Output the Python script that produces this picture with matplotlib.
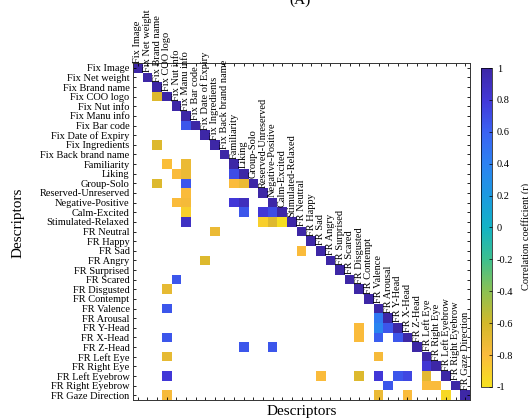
import numpy as np
import matplotlib
matplotlib.use('Agg')
import matplotlib.pyplot as plt
from matplotlib.colors import LinearSegmentedColormap

plt.rcParams['font.family'] = 'serif'
plt.rcParams['font.serif'] = ['Liberation Serif', 'DejaVu Serif']
plt.rcParams['axes.unicode_minus'] = False

descriptors = ['Fix Image', 'Fix Net weight', 'Fix Brand name', 'Fix COO logo',
               'Fix Nut info', 'Fix Manu info', 'Fix Bar code', 'Fix Date of Expiry',
               'Fix Ingredients', 'Fix Back brand name', 'Familiarity', 'Liking',
               'Group-Solo', 'Reserved-Unreserved', 'Negative-Positive', 'Calm-Excited',
               'Stimulated-Relaxed', 'FR Neutral', 'FR Happy', 'FR Sad', 'FR Angry',
               'FR Surprised', 'FR Scared', 'FR Disgusted', 'FR Contempt', 'FR Valence',
               'FR Arousal', 'FR Y-Head', 'FR X-Head', 'FR Z-Head', 'FR Left Eye',
               'FR Right Eye', 'FR Left Eyebrow', 'FR Right Eyebrow', 'FR Gaze Direction']

# significant correlations below the diagonal (row, column, r)
rows = [3, 6, 8, 10, 10, 11, 11, 11, 12, 12, 12, 12, 13, 14, 14, 14, 14,
        15, 15, 15, 15, 16, 16, 16, 16, 17, 19, 20, 22, 23, 25, 26, 27, 27,
        27, 28, 28, 28, 28, 29, 29, 30, 30, 31, 32, 32, 32, 32, 32, 32, 32,
        33, 33, 33, 34, 34, 34, 34]
cols = [2, 5, 2, 3, 5, 4, 5, 10, 2, 5, 10, 11, 5, 4, 5, 10, 11,
        5, 11, 13, 14, 5, 13, 14, 15, 8, 17, 7, 4, 3, 3, 25, 23, 25,
        26, 3, 23, 25, 27, 11, 14, 3, 25, 30, 3, 19, 23, 25, 27, 28, 30,
        26, 30, 31, 3, 25, 28, 32]
r_vals = [-0.65, 0.65, -0.65, -0.82, -0.72, -0.8, -0.72, 0.7, -0.65, 0.65, -0.8, -0.72, -0.8, -0.8, -0.77, 0.8, 0.9,
          -0.9, 0.65, 0.8, 0.7, 0.88, -0.9, -0.66, -0.98, -0.72, -0.8, -0.65, 0.65, -0.7, 0.65, 0.45, -0.8, 0.38,
          0.65, 0.65, -0.8, 0.62, 0.65, 0.65, 0.65, -0.7, -0.78, 0.82, 0.8, -0.8, -0.65, 0.8, 0.65, 0.72, -0.68,
          0.65, -0.8, -0.8, -0.78, -0.72, -0.8, -0.95]

n = len(descriptors)
M = np.full((n, n), np.nan)
np.fill_diagonal(M, 1.0)
M[rows, cols] = r_vals

# parula-like, yellow at -1, dark blue at +1
cb_colors = ['#f6e11f', '#fbbb3c', '#d2b92a', '#8cc152', '#3cc08f', '#12b3c5',
             '#1b9ae0', '#2c82f2', '#3a62f3', '#4238d8', '#3d27a6']
parula = LinearSegmentedColormap.from_list('parula_r', cb_colors)

fig = plt.figure(figsize=(5.28, 4.2), dpi=100)
ax = fig.add_axes([133/528, 20/420, 337/528, 337/420])
im = ax.imshow(M, cmap=parula, vmin=-1, vmax=1, interpolation='nearest', aspect='auto')

ax.set_xticks(range(n))
ax.set_xticklabels([])
ax.set_yticks(range(n))
ax.set_yticklabels(descriptors, fontsize=7.5)
ax.tick_params(direction='in', length=2.5, width=0.6, top=True, right=True, pad=2.5)
for s in ax.spines.values():
    s.set_linewidth(0.7)
    s.set_color('#333333')

# column names written along the diagonal
for j, name in enumerate(descriptors):
    ax.text(j, j - 0.55, name, rotation=90, ha='center', va='bottom', fontsize=7.5)

cax = fig.add_axes([481/528, 1 - 387/420, 11/528, 319/420])
ticks = np.round(np.arange(-1, 1.01, 0.2), 1)
cb = fig.colorbar(im, cax=cax, ticks=ticks)
cb.ax.set_yticklabels(['%g' % (t + 0.0) if abs(t) > 1e-9 else '0' for t in ticks], fontsize=7.5)
cb.ax.tick_params(direction='in', length=2, width=0.5)
cb.outline.set_linewidth(0.5)

fig.text(0.986, 0.438, 'Correlation coefficient (r)', rotation=90, ha='left', va='center', fontsize=7.5)
fig.text(0.035, 0.47, 'Descriptors', rotation=90, ha='center', va='center', fontsize=11)
fig.text(0.572, 0.021, 'Descriptors', ha='center', va='center', fontsize=11)
fig.text(0.568, 1.0, '(A)', ha='center', va='center', fontsize=11)

fig.savefig('out.png', dpi=100)
